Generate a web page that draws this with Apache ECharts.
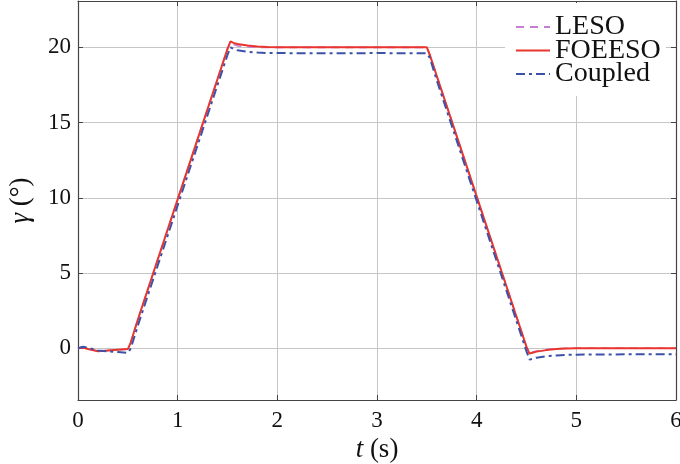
<!DOCTYPE html>
<html>
<head>
<meta charset="utf-8">
<script src="https://cdn.jsdelivr.net/npm/echarts@6/dist/echarts.min.js"></script>
<style>html,body{margin:0;padding:0;background:#fff}#c{width:680px;height:464px}</style>
</head>
<body>
<div id="c"></div>
<script>
const T = [0, 0.05, 0.1, 0.2, 0.3, 0.4, 0.5, 0.53, 0.6, 0.8, 1.0, 1.2, 1.4, 1.5, 1.53, 1.56, 1.6, 1.7, 1.8, 1.9, 2.0, 2.5, 3.0, 3.5, 3.53, 3.6, 3.8, 4.0, 4.2, 4.4, 4.5, 4.53, 4.56, 4.6, 4.7, 4.8, 4.9, 5.0, 5.5, 6.0];
const leso = [0, 0.05, -0.05, -0.18, -0.15, -0.1, -0.05, 0.4, 1.9, 5.9, 9.9, 13.9, 17.9, 19.9, 20.35, 20.2, 20.1, 20.02, 20.0, 20.0, 20.0, 20.0, 20.0, 20.0, 19.5, 18.1, 14.1, 10.1, 6.1, 2.1, 0.1, -0.3, -0.25, -0.18, -0.08, -0.02, 0, 0, 0, 0];
const foeeso = [0, 0.05, -0.05, -0.2, -0.15, -0.1, -0.05, 0.4, 1.9, 5.9, 9.9, 13.9, 17.9, 19.9, 20.4, 20.3, 20.22, 20.12, 20.06, 20.02, 20.0, 20.0, 20.0, 20.0, 19.5, 18.1, 14.1, 10.1, 6.1, 2.1, 0.1, -0.35, -0.3, -0.22, -0.12, -0.05, -0.02, 0, 0, 0];
const coupled = [0, 0.1, 0.05, -0.15, -0.2, -0.25, -0.3, 0.0, 1.5, 5.5, 9.5, 13.5, 17.5, 19.5, 20.0, 19.9, 19.8, 19.7, 19.65, 19.62, 19.62, 19.6, 19.62, 19.6, 19.3, 17.8, 13.8, 9.8, 5.8, 1.8, -0.2, -0.75, -0.7, -0.62, -0.52, -0.47, -0.44, -0.42, -0.4, -0.4];
const yTicks = [0, 5, 10, 15, 20];
const seriesNames = ['LESO', 'FOEESO', 'Coupled'];

const pair = v => T.map((t, i) => [t, v[i]]);
const font = 'Liberation Serif';
const axColor = '#444';
const frameLine = { show: true, onZero: false, lineStyle: { color: axColor, width: 1.2 } };
const nameStyle = { fontFamily: font, fontSize: 27, color: '#111', rich: { i: { fontFamily: font, fontSize: 27, fontStyle: 'italic', color: '#111' } } };

const chart = echarts.init(document.getElementById('c'));
chart.setOption({
  animation: false,
  grid: { left: 78, right: 4, top: 1, bottom: 64, outerBoundsMode: 'none', containLabel: false },
  legend: {
    left: 505, top: 3,
    orient: 'vertical',
    backgroundColor: '#fff',
    padding: [10, 5, 8, 10],
    itemWidth: 34, itemHeight: 14, itemGap: -4.5,
    itemStyle: { opacity: 0 },
    textStyle: { fontFamily: font, fontSize: 28, color: '#111', lineHeight: 22 },
    data: seriesNames
  },
  xAxis: [{
    type: 'value', min: 0, max: 6, interval: 1, position: 'bottom',
    name: '{i|t} (s)', nameLocation: 'middle', nameGap: 36,
    nameTextStyle: nameStyle,
    axisLine: frameLine,
    axisTick: { show: true, inside: true, length: 5, lineStyle: { color: axColor } },
    axisLabel: { fontFamily: font, fontSize: 23, color: '#111', margin: 9 },
    splitLine: { show: true, lineStyle: { color: '#c6c6c6', width: 1 } }
  }, {
    type: 'value', min: 0, max: 6, interval: 1, position: 'top',
    axisLine: frameLine,
    axisTick: { show: true, inside: true, length: 5, lineStyle: { color: axColor } },
    axisLabel: { show: false }, splitLine: { show: false }
  }],
  yAxis: [{
    type: 'value', min: -3.435, max: 23.08, position: 'left',
    name: '{i|γ} (°)', nameLocation: 'middle', nameGap: 44, nameRotate: 90,
    nameTextStyle: nameStyle,
    axisLine: frameLine,
    axisTick: { show: true, inside: true, length: 5, customValues: yTicks, lineStyle: { color: axColor } },
    axisLabel: { fontFamily: font, fontSize: 23, color: '#111', margin: 7, customValues: yTicks },
    splitLine: { show: true, lineStyle: { color: '#c6c6c6', width: 1 } }
  }, {
    type: 'value', min: -3.435, max: 23.08, position: 'right',
    axisLine: frameLine,
    axisTick: { show: true, inside: true, length: 5, customValues: yTicks, lineStyle: { color: axColor } },
    axisLabel: { show: false }, splitLine: { show: false }
  }],
  series: [
    { name: 'LESO', type: 'line', data: pair(leso), symbol: 'none', lineStyle: { color: '#c77dd6', width: 1.6, type: [8, 6] }, itemStyle: { color: '#c77dd6' }, z: 2 },
    { name: 'FOEESO', type: 'line', data: pair(foeeso), symbol: 'none', lineStyle: { color: '#e8352e', width: 2 }, itemStyle: { color: '#e8352e' }, z: 3 },
    { name: 'Coupled', type: 'line', data: pair(coupled), symbol: 'none', lineStyle: { color: '#3b52a8', width: 2, type: [9, 4, 3, 4] }, itemStyle: { color: '#3b52a8' }, z: 4 }
  ]
});
</script>
</body>
</html>
